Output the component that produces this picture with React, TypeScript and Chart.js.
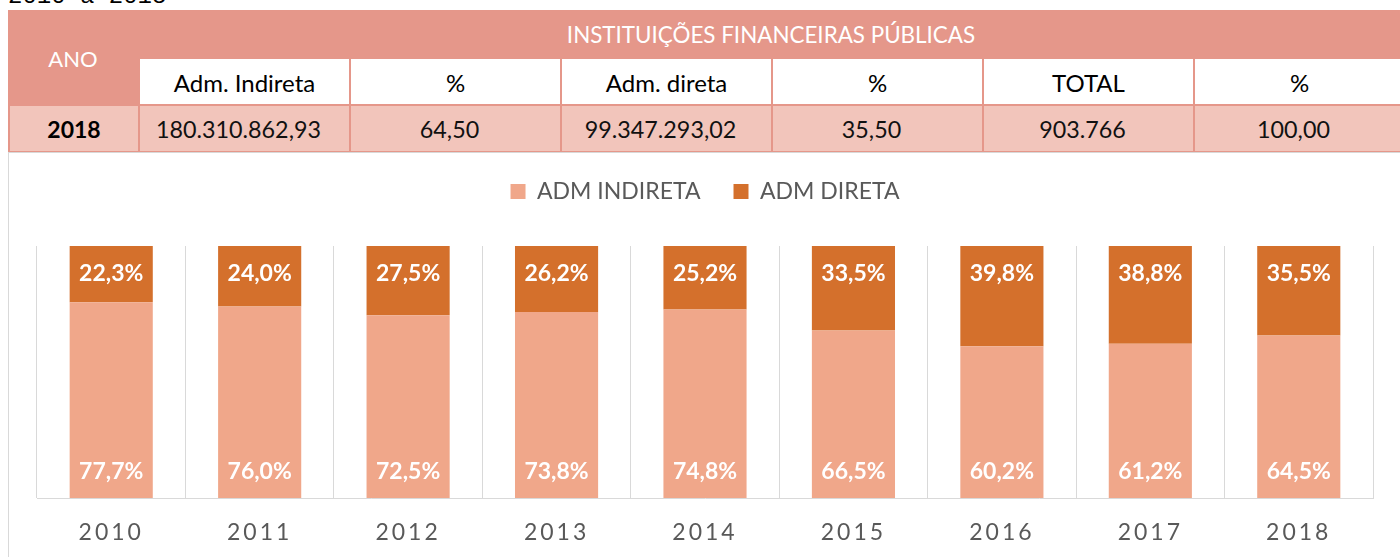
import React, { useEffect, useRef } from 'react';
import { Chart, registerables } from 'chart.js';

Chart.register(...registerables);

const caption = '2010 a 2018';
const tableTitle = 'INSTITUIÇÕES FINANCEIRAS PÚBLICAS';
const yearHeader = 'ANO';
const tableHeaders = ['Adm. Indireta', '%', 'Adm. direta', '%', 'TOTAL', '%'];
const tableYear = '2018';
const tableValues = ['180.310.862,93', '64,50', '99.347.293,02', '35,50', '903.766', '100,00'];

const years = ['2010', '2011', '2012', '2013', '2014', '2015', '2016', '2017', '2018'];
const admIndireta = [77.7, 76.0, 72.5, 73.8, 74.8, 66.5, 60.2, 61.2, 64.5];
const admDireta = [22.3, 24.0, 27.5, 26.2, 25.2, 33.5, 39.8, 38.8, 35.5];
const seriesNames = ['ADM INDIRETA', 'ADM DIRETA'];

const SALMON = '#E5978A';
const PINK = '#F2C5BB';
const LIGHT = '#F0A78A';
const DARK = '#D4702C';
const GRID = '#D9D9D9';
const TEXT_GRAY = '#595959';
const FONT = 'Lato, "Open Sans", sans-serif';

const barLabels = {
  id: 'barLabels',
  afterDatasetsDraw(chart: any) {
    const ctx = chart.ctx;
    ctx.save();
    ctx.font = 'bold 23px Lato';
    ctx.fillStyle = '#FFFFFF';
    ctx.textAlign = 'center';
    ctx.textBaseline = 'middle';
    chart.data.datasets.forEach((ds: any, di: number) => {
      const meta = chart.getDatasetMeta(di);
      meta.data.forEach((el: any, i: number) => {
        const v = ds.data[i] as number;
        const text = v.toFixed(1).replace('.', ',') + '%';
        const { x, y, base } = el.getProps(['x', 'y', 'base'], true);
        const top = Math.min(y, base);
        const bottom = Math.max(y, base);
        const ly = di === 0 ? bottom - 26 : top + 28;
        ctx.fillText(text, x, ly);
      });
    });
    ctx.restore();
  },
};

const legendSpace = {
  id: 'legendSpace',
  beforeInit(chart: any) {
    const legend = chart.legend;
    if (!legend) return;
    const origFit = legend.fit;
    legend.fit = function () {
      origFit.call(this);
      this.height = 99;
    };
  },
};

function BarChart() {
  const ref = useRef<HTMLCanvasElement | null>(null);
  useEffect(() => {
    if (!ref.current) return;
    const chart = new Chart(ref.current, {
      type: 'bar',
      data: {
        labels: years,
        datasets: [
          {
            label: seriesNames[0],
            data: admIndireta,
            backgroundColor: LIGHT,
            categoryPercentage: 1,
            barPercentage: 0.56,
          },
          {
            label: seriesNames[1],
            data: admDireta,
            backgroundColor: DARK,
            categoryPercentage: 1,
            barPercentage: 0.56,
          },
        ],
      },
      options: {
        animation: false,
        responsive: true,
        maintainAspectRatio: false,
        layout: { padding: { left: 28, right: 27, top: 24, bottom: 0 } },
        plugins: {
          tooltip: { enabled: false },
          legend: {
            position: 'top',
            labels: {
              color: TEXT_GRAY,
              font: { family: FONT, size: 23 },
              boxWidth: 15,
              boxHeight: 15,
              padding: 33,
            },
          },
        },
        scales: {
          x: {
            stacked: true,
            offset: true,
            grid: { display: true, offset: true, color: GRID, lineWidth: 1, drawTicks: false },
            border: { display: true, color: GRID, width: 1 },
            ticks: { color: TEXT_GRAY, font: { family: FONT, size: 23 }, padding: 21 },
            afterFit(scale: any) {
              scale.height = 59;
              if (!scale.__ls) {
                scale.__ls = true;
                const orig = scale.drawLabels;
                scale.drawLabels = function (area: any) {
                  const ctx = this.ctx;
                  ctx.save();
                  try {
                    ctx.letterSpacing = '3px';
                  } catch (e) {}
                  orig.call(this, area);
                  ctx.restore();
                };
              }
            },
          },
          y: {
            stacked: true,
            display: false,
            min: 0,
            max: 100,
          },
        },
      },
      plugins: [barLabels, legendSpace],
    } as any);
    return () => chart.destroy();
  }, []);
  return (
    <div style={{ position: 'absolute', left: 9, top: 123, width: 1391, height: 434 }}>
      <canvas ref={ref} />
    </div>
  );
}

function DataTable() {
  const colX = (i: number) => 138 + 211 * i;
  const cellText: React.CSSProperties = {
    position: 'absolute',
    display: 'flex',
    alignItems: 'center',
    justifyContent: 'center',
    fontFamily: FONT,
    fontSize: 22,
    lineHeight: '26px',
    whiteSpace: 'nowrap',
  };
  return (
    <div style={{ position: 'absolute', left: 0, top: 0, width: 1400, height: 153, zIndex: 2 }}>
      <div style={{ position: 'absolute', left: 8, top: 10, width: 1396, height: 142, background: SALMON }} />
      <div style={{ ...cellText, left: 8, top: 10, width: 130, height: 98, color: '#FFFFFF' }}>{yearHeader}</div>
      <div style={{ ...cellText, left: 138, top: 10, width: 1266, height: 50, color: '#FFFFFF', fontSize: 22.4 }}>{tableTitle}</div>
      {tableHeaders.map((h, i) => (
        <div
          key={'h' + i}
          style={{ ...cellText, left: colX(i) + 2, top: 59, width: 209, height: 45, background: '#FFFFFF', color: '#000000', paddingTop: 3, boxSizing: 'border-box', fontSize: 24 }}
        >
          {h}
        </div>
      ))}
      <div style={{ ...cellText, left: 10, top: 106, width: 128, height: 45, background: PINK, color: '#000000', fontWeight: 'bold', fontSize: 23 }}>
        {tableYear}
      </div>
      {tableValues.map((v, i) => (
        <div
          key={'v' + i}
          style={{ ...cellText, left: colX(i) + 2, top: 106, width: 209, height: 45, background: PINK, color: '#111111', paddingRight: 12, boxSizing: 'border-box', fontSize: 23.3 }}
        >
          {v}
        </div>
      ))}
    </div>
  );
}

export default function App() {
  return (
    <div style={{ position: 'absolute', left: 0, top: 0, width: 1400, height: 557, overflow: 'hidden', background: '#FFFFFF' }}>
      <div
        style={{
          position: 'absolute',
          left: 8,
          top: -15,
          fontFamily: '"Liberation Mono", monospace',
          fontSize: 24,
          lineHeight: '24px',
          color: '#000000',
          whiteSpace: 'nowrap',
        }}
      >
        {caption}
      </div>
      <div style={{ position: 'absolute', left: 8, top: 152, width: 1400, height: 420, borderLeft: `1px solid ${GRID}`, borderTop: `1px solid ${GRID}` }} />
      <BarChart />
      <DataTable />
    </div>
  );
}
